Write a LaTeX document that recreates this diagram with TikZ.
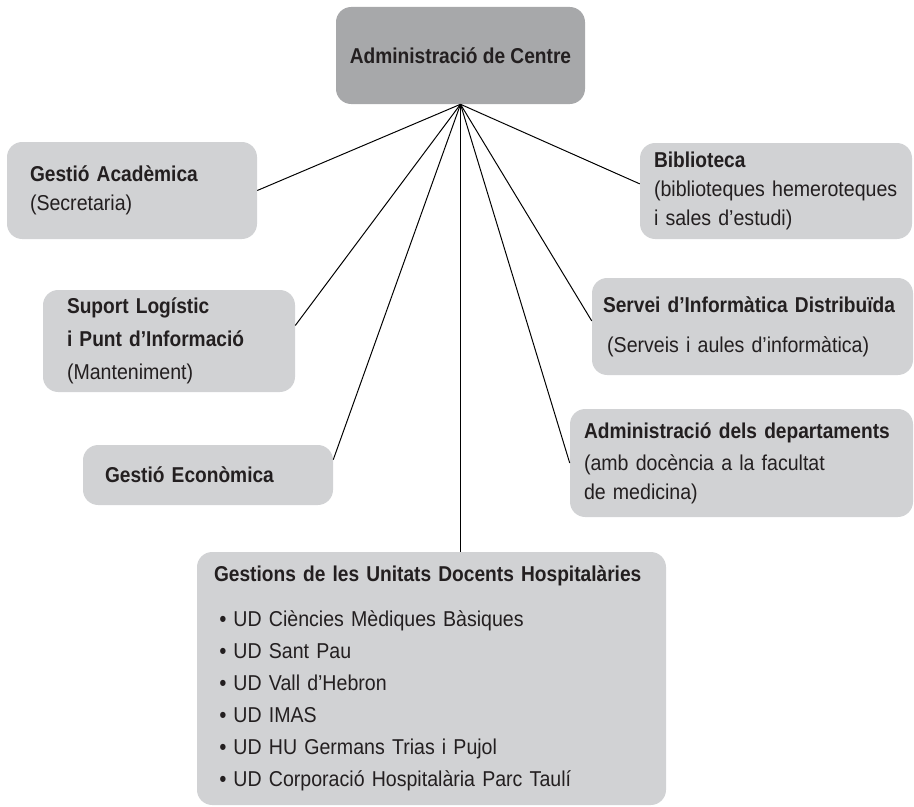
\documentclass[tikz,border=0pt]{standalone}
\usepackage{fontspec}
\setmainfont{Liberation Sans}[FakeStretch=0.91, BoldFeatures={FakeStretch=0.89}]
\usepackage{tikz}
\usetikzlibrary{positioning}

\definecolor{headgray}{HTML}{A7A8AA}
\definecolor{boxgray}{HTML}{D1D2D4}
\definecolor{inkcol}{HTML}{231F20}

\newcommand{\udbullet}{\hspace*{4pt}\textbf{•}\ }

\begin{document}
\begin{tikzpicture}[
  every node/.style = {font=\fontsize{15.3}{20.6}\selectfont, text=inkcol},
  topbox/.style  = {rectangle, rounded corners=0.38cm,
                    fill=headgray, draw=none,
                    minimum width=6.225cm, minimum height=2.425cm,
                    align=center},
  unitbox/.style = {rectangle, rounded corners=0.38cm,
                    fill=boxgray, draw=none,
                    inner ysep=0pt, align=left},
  link/.style = {draw=black, line width=0.7pt},
]
\useasboundingbox (0,0) rectangle (22.85,-20.175);

%% ══ TOP: centre administration ═════════════════════════════════════════
\node[topbox] at (11.5125, -1.3875) (admin) {\textbf{Administració de Centre}};

%% ══ LEFT COLUMN ════════════════════════════════════════════════════════
\node[unitbox, text width=5.1cm, inner xsep=0.575cm,
      minimum height=2.425cm] at (3.3, -4.7625) (acad) {
  \textbf{Gestió Acadèmica}\\
  (Secretaria)
};

\node[unitbox, text width=5.1cm, inner xsep=0.6cm,
      minimum height=2.55cm] at (4.225, -8.525) (suport) {
  \textbf{Suport Logístic}\\[3pt]
  \textbf{i Punt d’Informació}\\[3pt]
  (Manteniment)
};

\node[unitbox, text width=5.15cm, inner xsep=0.55cm,
      minimum height=1.5cm] at (5.2, -11.875) (econ) {
  \textbf{Gestió Econòmica}
};

%% ══ RIGHT COLUMN ═══════════════════════════════════════════════════════
\node[unitbox, text width=6.1cm, inner xsep=0.35cm,
      minimum height=2.4cm] at (19.4, -4.775) (biblio) {
  \textbf{Biblioteca}\\
  (biblioteques hemeroteques\\
  i sales d’estudi)
};

\node[unitbox, text width=7.475cm, inner xsep=0.275cm,
      minimum height=2.425cm] at (18.8125, -8.1625) (informat) {
  \textbf{Servei d’Informàtica Distribuïda}\\[8pt]
  \hspace*{3pt}(Serveis i aules d’informàtica)
};

\node[unitbox, text width=7.875cm, inner xsep=0.35cm,
      minimum height=2.7cm] at (18.5375, -11.575) (depts) {
  \textbf{Administració dels departaments}\\[2pt]
  (amb docència a la facultat\\
  de medicina)
};

%% ══ BOTTOM: teaching hospital units ════════════════════════════════════
\node[unitbox, text width=10.875cm, inner xsep=0.425cm,
      minimum height=6.325cm, font=\fontsize{15.3}{22.8}\selectfont]
      at (10.7875, -16.9625) (hospital) {
  \mbox{\textbf{Gestions de les Unitats Docents Hospitalàries}}\\[9pt]
  \udbullet UD Ciències Mèdiques Bàsiques\\
  \udbullet UD Sant Pau\\
  \udbullet UD Vall d’Hebron\\
  \udbullet UD IMAS\\
  \udbullet UD HU Germans Trias i Pujol\\
  \udbullet UD Corporació Hospitalària Parc Taulí
};

%% ── Connectors: all from the apex under the top box ─────────────────────
\draw[link] (admin.south) -- (acad.east);
\draw[link] (admin.south) -- (suport.7);
\draw[link] (admin.south) -- (econ.7);
\draw[link] (admin.south) -- (biblio.177);
\draw[link] (admin.south) -- (informat.178);
\draw[link] (admin.south) -- (depts.west);
\draw[link] (admin.south) -- (admin.south |- hospital.north);

\end{tikzpicture}
\end{document}
